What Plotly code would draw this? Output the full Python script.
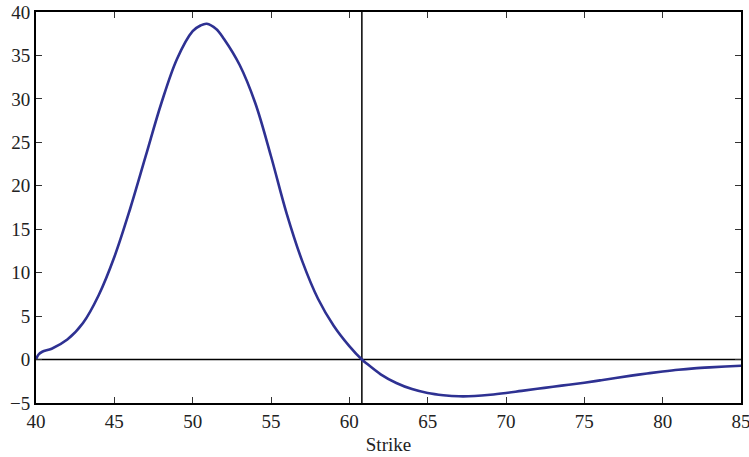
import plotly.graph_objects as go

strike = [40, 40.15, 40.4, 41, 42, 43, 44, 45, 46, 47, 48, 49, 50, 50.5, 50.9, 51.5, 52, 53,
          54, 55, 56, 57, 58, 59, 60, 60.8, 61, 62, 63, 64, 65, 66, 67, 68, 69, 70, 71,
          72, 73, 74, 75, 76, 77, 78, 79, 80, 81, 82, 83, 84, 85]
value = [0, 0.55, 0.9, 1.25, 2.3, 4.2, 7.4, 11.8, 17.3, 23.4, 29.5, 34.6, 37.8, 38.45,
         38.65, 38.05, 36.9, 33.9, 29.5, 23.4, 16.8, 11.3, 7.0, 3.9, 1.55, 0, -0.3, -1.7,
         -2.7, -3.4, -3.85, -4.1, -4.23, -4.2, -4.06, -3.85, -3.6, -3.36, -3.13, -2.9,
         -2.66, -2.4, -2.12, -1.85, -1.6, -1.38, -1.18, -1.02, -0.9, -0.8, -0.72]
vline_x = 60.8
x_ticks = [40, 45, 50, 55, 60, 65, 70, 75, 80, 85]
y_ticks = [-5, 0, 5, 10, 15, 20, 25, 30, 35, 40]

fig = go.Figure()
fig.add_trace(go.Scatter(x=strike, y=value, mode="lines",
                         line=dict(color="#2e3192", width=2.6, shape="spline", smoothing=1.0),
                         showlegend=False, hoverinfo="skip"))
fig.add_hline(y=0, line=dict(color="black", width=1.5), layer="below")
fig.add_vline(x=vline_x, line=dict(color="black", width=1.5), layer="below")

font = dict(family="Liberation Serif, Times New Roman, serif", size=18, color="#222")
fig.update_layout(
    width=749, height=457,
    margin=dict(l=36, r=8, t=12, b=54),
    paper_bgcolor="white", plot_bgcolor="white",
    font=font,
    xaxis=dict(range=[40, 85], tickvals=x_ticks, ticks="inside", ticklen=6, tickcolor="#333",
               showline=True, linecolor="black", linewidth=2, mirror="ticks", showgrid=False,
               zeroline=False, automargin=False, ticklabeloverflow="allow",
               title=dict(text="Strike", font=dict(size=19), standoff=7),
               tickfont=dict(size=19)),
    yaxis=dict(range=[-5, 40], tickvals=y_ticks, ticks="inside", ticklen=6, tickcolor="#333",
               showline=True, linecolor="black", linewidth=2, mirror="ticks", showgrid=False,
               zeroline=False, automargin=False, ticklabeloverflow="allow",
               tickfont=dict(size=19)),
)
fig.write_html("out.html", config={"displayModeBar": False},
               post_script="document.body.style.margin='0';")
